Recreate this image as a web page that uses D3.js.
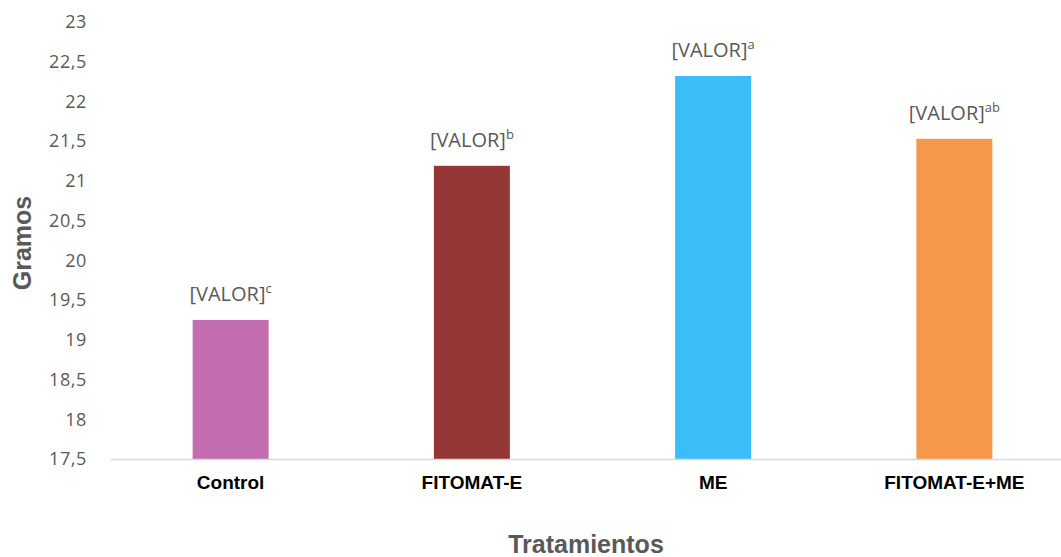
<!DOCTYPE html>
<html>
<head>
<meta charset="utf-8">
<script src="https://cdn.jsdelivr.net/npm/d3@7"></script>
<style>
  body { margin: 0; background: #fff; }
  svg { display: block; }
  .lbl { font-family: "Open Sans", sans-serif; font-size: 20px; fill: #595959; }
  .axis-title { font-family: "Liberation Sans", Arial, sans-serif; font-size: 25px; font-weight: bold; fill: #595959; }
</style>
</head>
<body>
<svg width="1061" height="557"></svg>
<script>
// data
const categories = ["Control", "FITOMAT-E", "ME", "FITOMAT-E+ME"];
const values = [19.25, 21.19, 22.32, 21.53];
const letters = ["c", "b", "a", "ab"];
const colors = ["#c36db0", "#943737", "#3bbdf8", "#f69849"];
const yTicks = [17.5, 18, 18.5, 19, 19.5, 20, 20.5, 21, 21.5, 22, 22.5, 23];

const svg = d3.select("svg"),
    margin = {top: 22, right: 0, bottom: 98, left: 110},
    height = +svg.attr("height") - margin.top - margin.bottom;

const x = d3.scaleBand().domain(categories).range([0, 965]).padding(0),
    y = d3.scaleLinear().domain([17.5, 23]).range([height, 0]);

const barW = x.bandwidth() * 0.315;

const g = svg.append("g")
    .attr("transform", `translate(${margin.left},${margin.top})`);

// y axis labels only
const yAxis = g.append("g")
    .call(d3.axisLeft(y).tickValues(yTicks).tickSize(0).tickPadding(23)
        .tickFormat(d => String(d).replace(".", ",")));
yAxis.select(".domain").remove();
yAxis.selectAll(".tick text")
    .style("font-family", "'Open Sans', sans-serif")
    .style("font-size", "18px")
    .style("letter-spacing", "0.6px")
    .style("fill", "#595959");

// bars
g.selectAll(".bar")
    .data(values)
    .enter().append("rect")
    .attr("class", "bar")
    .attr("x", (d, i) => x(categories[i]) + x.bandwidth() / 2 - barW / 2)
    .attr("y", d => y(d))
    .attr("width", barW)
    .attr("height", d => height - y(d))
    .attr("fill", (d, i) => colors[i]);

// x axis line + category labels
const xAxis = g.append("g")
    .attr("transform", `translate(0,${height})`)
    .call(d3.axisBottom(x).tickSize(0).tickPadding(17));
xAxis.select(".domain").attr("stroke", "#d9d9d9").attr("stroke-width", 1.5);
xAxis.selectAll(".tick text")
    .style("font-family", "'Liberation Sans', Arial, sans-serif")
    .style("font-size", "19px").style("font-weight", "bold").style("fill", "#000");

// value labels with superscript letters
const lbl = g.selectAll(".lbl")
    .data(values)
    .enter().append("text")
    .attr("class", "lbl")
    .attr("x", (d, i) => x(categories[i]) + x.bandwidth() / 2)
    .attr("y", d => y(d) - 19)
    .attr("text-anchor", "middle");
lbl.append("tspan").text("[VALOR]");
lbl.append("tspan")
    .attr("dy", -8)
    .style("font-size", "13px")
    .text((d, i) => letters[i]);

// axis titles
svg.append("text")
    .attr("class", "axis-title")
    .attr("transform", "rotate(-90)")
    .attr("x", -243)
    .attr("y", 31)
    .attr("text-anchor", "middle")
    .text("Gramos");

svg.append("text")
    .attr("class", "axis-title")
    .attr("x", 586)
    .attr("y", 553)
    .attr("text-anchor", "middle")
    .text("Tratamientos");
</script>
</body>
</html>
